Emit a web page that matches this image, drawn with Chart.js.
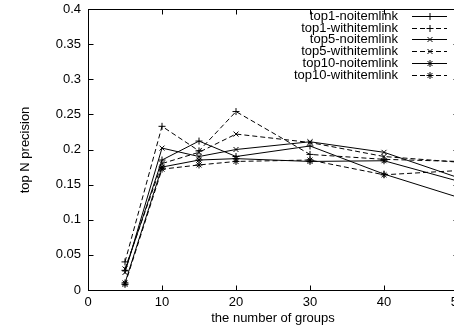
<!DOCTYPE html>
<html>
<head>
<meta charset="utf-8">
<script src="https://cdn.jsdelivr.net/npm/chart.js@4/dist/chart.umd.min.js"></script>
<style>
  html, body { margin: 0; padding: 0; background: #fff; overflow: hidden; }
  #wrap { position: absolute; left: 0; top: 0; width: 480px; height: 332px; }
</style>
</head>
<body>
<div id="wrap"><canvas id="precChart" width="480" height="332"></canvas></div>
<script>
// number of groups
const groups = [5, 10, 15, 20, 30, 40, 50];

// top N precision per run
const top1NoItemLink   = [0.028, 0.185, 0.212, 0.190, 0.205, 0.165, 0.132];
const top1WithItemLink = [0.040, 0.233, 0.198, 0.254, 0.193, 0.186, 0.183];
const top5NoItemLink   = [0.025, 0.202, 0.190, 0.200, 0.211, 0.196, 0.160];
const top5WithItemLink = [0.030, 0.180, 0.196, 0.222, 0.210, 0.190, 0.182];
const top10NoItemLink  = [0.010, 0.175, 0.185, 0.187, 0.183, 0.184, 0.155];
const top10WithItemLink = [0.008, 0.172, 0.178, 0.183, 0.185, 0.164, 0.170];

const xTicks = [0, 10, 20, 30, 40, 50];
const yTicks = [0, 0.05, 0.1, 0.15, 0.2, 0.25, 0.3, 0.35, 0.4];

const seriesNames = ["top1-noitemlink", "top1-withitemlink", "top5-noitemlink",
                     "top5-withitemlink", "top10-noitemlink", "top10-withitemlink"];

const FONT = "'Liberation Sans', Arial, sans-serif";

function toPoints(values) {
    return groups.map(function (g, i) { return { x: g, y: values[i] }; });
}

function makeSet(label, values, marker, dashed) {
    return {
        label: label,
        data: toPoints(values),
        borderColor: "#000",
        backgroundColor: "#000",
        borderWidth: 1,
        borderDash: dashed ? [5, 3] : [],
        pointStyle: marker,
        pointRadius: 3.5,
        pointHoverRadius: 3.5,
        pointBorderWidth: 1,
        pointBorderColor: "#000",
        tension: 0,
        fill: false
    };
}

// gnuplot style frame, inward ticks, titles and key
const frameAndKey = {
    id: "frameAndKey",
    afterDraw: function (chart) {
        const ctx = chart.ctx;
        const a = chart.chartArea;
        const xs = chart.scales.x;
        const ys = chart.scales.y;
        const L = Math.round(a.left) + 0.5, R = Math.round(a.right) + 0.5;
        const T = Math.round(a.top) + 0.5, B = Math.round(a.bottom) + 0.5;

        ctx.save();
        ctx.strokeStyle = "#000";
        ctx.lineWidth = 1;
        ctx.setLineDash([]);
        ctx.strokeRect(L, T, R - L, B - T);

        ctx.beginPath();
        xTicks.forEach(function (v) {
            const px = Math.round(xs.getPixelForValue(v)) + 0.5;
            ctx.moveTo(px, B); ctx.lineTo(px, B - 5);
            ctx.moveTo(px, T); ctx.lineTo(px, T + 5);
        });
        yTicks.forEach(function (v) {
            const py = Math.round(ys.getPixelForValue(v)) + 0.5;
            ctx.moveTo(L, py); ctx.lineTo(L + 5, py);
            ctx.moveTo(R, py); ctx.lineTo(R - 5, py);
        });
        ctx.stroke();

        // axis titles
        ctx.fillStyle = "#000";
        ctx.font = "13px " + FONT;
        ctx.textAlign = "center";
        ctx.textBaseline = "middle";
        ctx.fillText("the number of groups", 273, 318);
        ctx.save();
        ctx.translate(25, 150);
        ctx.rotate(-Math.PI / 2);
        ctx.fillText("top N precision", 0, 0);
        ctx.restore();

        // key
        chart.data.datasets.forEach(function (ds, i) {
            const ry = Math.round(16 + i * 11.7) + 0.5;
            ctx.textAlign = "right";
            ctx.fillText(ds.label, 398, ry);
            ctx.beginPath();
            ctx.setLineDash(ds.borderDash);
            ctx.moveTo(412, ry);
            ctx.lineTo(447, ry);
            ctx.stroke();
            ctx.setLineDash([]);
            if (Chart.helpers && Chart.helpers.drawPoint) {
                Chart.helpers.drawPoint(ctx, {
                    pointStyle: ds.pointStyle, rotation: 0, radius: 3.5, borderWidth: 1
                }, 430, ry);
            }
        });
        ctx.restore();
    }
};

const canvas = document.getElementById("precChart");
const ctx = canvas.getContext("2d");

const precChart = new Chart(ctx, {
    type: "line",
    data: {
        datasets: [
            makeSet(seriesNames[0], top1NoItemLink, "cross", false),
            makeSet(seriesNames[1], top1WithItemLink, "cross", true),
            makeSet(seriesNames[2], top5NoItemLink, "crossRot", false),
            makeSet(seriesNames[3], top5WithItemLink, "crossRot", true),
            makeSet(seriesNames[4], top10NoItemLink, "star", false),
            makeSet(seriesNames[5], top10WithItemLink, "star", true)
        ]
    },
    options: {
        responsive: false,
        animation: false,
        devicePixelRatio: 1,
        layout: { padding: { left: 0, right: 22, top: 9, bottom: 0 } },
        scales: {
            x: {
                type: "linear",
                min: 0,
                max: 50,
                afterFit: function (scale) {
                    scale.height = 42;
                    scale.paddingLeft = 0;
                    scale.paddingRight = 0;
                },
                afterBuildTicks: function (scale) {
                    scale.ticks = xTicks.map(function (v) { return { value: v }; });
                },
                grid: { display: false, drawTicks: false },
                border: { display: false },
                ticks: {
                    padding: 5,
                    color: "#000",
                    maxRotation: 0,
                    font: { family: FONT, size: 13 }
                }
            },
            y: {
                min: 0,
                max: 0.4,
                afterFit: function (scale) {
                    scale.width = 88;
                    scale.paddingTop = 0;
                    scale.paddingBottom = 0;
                },
                afterBuildTicks: function (scale) {
                    scale.ticks = yTicks.map(function (v) { return { value: v }; });
                },
                grid: { display: false, drawTicks: false },
                border: { display: false },
                ticks: {
                    padding: 7,
                    color: "#000",
                    font: { family: FONT, size: 13 },
                    callback: function (v) { return String(+v.toFixed(2)); }
                }
            }
        },
        plugins: {
            legend: { display: false },
            tooltip: { enabled: false }
        }
    },
    plugins: [frameAndKey]
});
</script>
</body>
</html>
